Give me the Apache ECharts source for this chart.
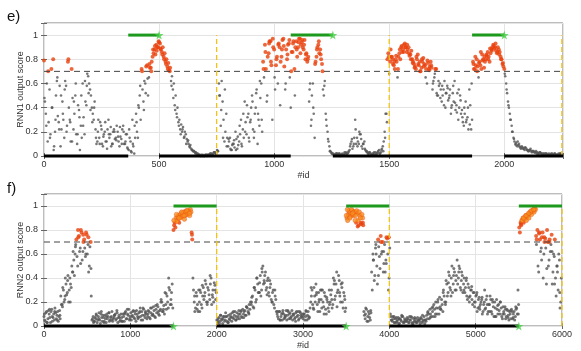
<!DOCTYPE html>
<html>
<head>
<meta charset="utf-8">
<title>RNN output scores</title>
<script src="https://cdn.jsdelivr.net/npm/echarts@6/dist/echarts.min.js"></script>
<style>
    html, body, #main {
        width: 100%;
        height: 100%;
        margin: 0;
        background: #fff;
    }
</style>
</head>
<body>
<div id="main"></div>
<script type="text/javascript">
// panel e) RNN1 : scores read every 4 ids (from id 0) ...
var rnn1Step = 4;
var rnn1Scores = [
    0.79,0.45,0.35,0.6,0.12,0.28,0.55,0.18,0.72,0.4,0.8,0.08,0.2,0.5,0.62,0.33,0.28,0.58,0.08,0.22,
    0.45,0.3,0.15,0.62,0.58,0.25,0.78,0.4,0.3,0.12,0.72,0.48,0.22,0.35,0.5,0.18,0.1,0.42,0.38,0.05,
    0.25,0.15,0.6,0.32,0.18,0.45,0.42,0.68,0.66,0.6,0.55,0.5,0.4,0.35,0.3,0.45,0.22,0.1,0.12,0.3,
    0.15,0.28,0.25,0.1,0.08,0.18,0.2,0.12,0.12,0.22,0.3,0.15,0.18,0.08,0.1,0.2,0.22,0.14,0.15,0.25,
    0.2,0.12,0.08,0.16,0.14,0.22,0.25,0.1,0.1,0.18,0.18,0.06,0.05,0.15,0.12,0.03,0.3,0.08,0.02,0.15,
    0.35,0.2,0.15,0.4,0.5,0.3,0.72,0.55,0.45,0.62,0.6,0.74,0.75,0.5,0.65,0.73,0.73,0.78,0.82,0.85,
    0.88,0.84,0.92,0.9,0.9,0.94,0.93,0.88,0.86,0.9,0.82,0.85,0.78,0.8,0.74,0.77,0.71,0.73,0.62,0.66,
    0.55,0.6,0.42,0.5,0.35,0.4,0.28,0.3,0.22,0.26,0.2,0.24,0.15,0.2,0.18,0.14,0.12,0.1,0.08,0.09,
    0.06,0.05,0.04,0.04,0.03,0.03,0.02,0.02,0.01,0.01,0,0.01,0,0,0,0.01,0.01,0,0.01,0.01,
    0.01,0.02,0.02,0.01,0.02,0.03,0.03,0.02,0.05,0.04,0.6,0.5,0.25,0.62,0.45,0.3,0.12,0.2,0.35,0.15,
    0.08,0.12,0.15,0.05,0.05,0.1,0.1,0.07,0.2,0.14,0.06,0.09,0.12,0.18,0.3,0.08,0.22,0.15,0.45,0.28,
    0.18,0.32,0.35,0.12,0.28,0.4,0.5,0.22,0.15,0.35,0.4,0.55,0.1,0.3,0.25,0.48,0.6,0.2,0.78,0.65,
    0.92,0.72,0.45,0.82,0.85,0.95,0.95,0.75,0.3,0.9,0.88,0.55,0.75,0.82,0.6,0.93,0.9,0.78,0.82,0.96,
    0.97,0.74,0.55,0.88,0.8,0.92,0.93,0.65,0.4,0.86,0.86,0.95,0.72,0.9,0.95,0.82,0.9,0.97,0.97,0.92,
    0.94,0.9,0.88,0.96,0.8,0.85,0.78,0.82,0.45,0.6,0.25,0.5,0.6,0.35,0.15,0.78,0.82,0.9,0.92,0.85,
    0.88,0.8,0.76,0.55,0.5,0.62,0.35,0.25,0.2,0.12,0.08,0.04,0.03,0.02,0.02,0.01,0.01,0.02,0.02,0.01,
    0.01,0.02,0,0.01,0.02,0.01,0.01,0.02,0.03,0.02,0.02,0.04,0.05,0.1,0.12,0.06,0.08,0.15,0.3,0.1,
    0.15,0.12,0.1,0.18,0.18,0.08,0.06,0.1,0.12,0.05,0.04,0.03,0.02,0.03,0.03,0.01,0.01,0.02,0.02,0.01,
    0.03,0.02,0.02,0.04,0.05,0.02,0.03,0.06,0.08,0.12,0.2,0.35,0.35,0.8,0.85,0.68,0.78,0.82,0.82,0.76,
    0.75,0.72,0.8,0.78,0.65,0.82,0.85,0.8,0.9,0.86,0.88,0.92,0.93,0.9,0.86,0.88,0.9,0.83,0.84,0.87,
    0.8,0.78,0.76,0.74,0.72,0.8,0.84,0.75,0.78,0.7,0.73,0.78,0.81,0.76,0.75,0.72,0.6,0.77,0.72,0.74,
    0.78,0.73,0.55,0.62,0.65,0.72,0.72,0.5,0.5,0.58,0.6,0.55,0.45,0.5,0.55,0.62,0.4,0.52,0.58,0.46,
    0.48,0.55,0.35,0.42,0.52,0.45,0.62,0.38,0.42,0.52,0.3,0.4,0.5,0.35,0.38,0.28,0.25,0.35,0.45,0.3,
    0.32,0.22,0.55,0.42,0.22,0.3,0.78,0.72,0.72,0.75,0.8,0.74,0.65,0.78,0.75,0.72,0.84,0.8,0.73,0.78,
    0.8,0.83,0.86,0.82,0.78,0.85,0.88,0.9,0.92,0.89,0.9,0.87,0.85,0.9,0.88,0.86,0.82,0.8,0.76,0.74,
    0.72,0.66,0.6,0.52,0.45,0.4,0.35,0.3,0.25,0.2,0.15,0.12,0.1,0.11,0.08,0.09,0.1,0.07,0.06,0.08,
    0.07,0.06,0.05,0.07,0.06,0.05,0.04,0.05,0.05,0.04,0.03,0.04,0.04,0.03,0.03,0.02,0.03,0.02,0.02,0.03,
    0.02,0.01,0.02,0.02,0.01,0.02,0.02,0.01,0.01,0.01,0.01,0.02,0.02,0.01,0.01,0.02,0.01,0.01,0.01,0.02,
    0.01,0.02,0.01,0.01
];
// ... plus a second reading every 8 ids, starting at id 2
var rnn1StepB = 8, rnn1OffsetB = 2;
var rnn1ScoresB = [
    0.48,0.25,0.7,0.15,0.4,0.05,0.3,0.65,0.22,0.5,
    0.35,0.55,0.2,0.8,0.28,0.12,0.45,0.6,0.18,0.32,
    0.5,0.25,0.62,0.58,0.52,0.38,0.28,0.4,0.15,0.2,
    0.1,0.22,0.16,0.28,0.06,0.18,0.24,0.1,0.2,0.13,
    0.16,0.24,0.1,0.2,0.12,0.07,0.22,0.04,0.1,0.25,
    0.28,0.42,0.58,0.7,0.38,0.52,0.64,0.76,0.7,0.88,
    0.91,0.87,0.95,0.89,0.84,0.8,0.76,0.72,0.7,0.58,
    0.48,0.38,0.32,0.25,0.18,0.22,0.16,0.1,0.13,0.07,
    0.05,0.04,0.02,0.01,0.01,0,0.01,0,0.01,0.01,
    0.02,0.01,0.03,0.02,0.04,0.5,0.38,0.15,0.55,0.08,
    0.14,0.06,0.09,0.13,0.05,0.16,0.25,0.1,0.35,0.2,
    0.42,0.15,0.3,0.45,0.2,0.52,0.35,0.62,0.3,0.72,
    0.86,0.5,0.93,0.78,0.97,0.65,0.8,0.92,0.42,0.88,
    0.91,0.6,0.84,0.96,0.7,0.93,0.5,0.88,0.94,0.85,
    0.96,0.92,0.84,0.8,0.55,0.3,0.4,0.76,0.88,0.95,
    0.84,0.7,0.58,0.3,0.14,0.04,0.02,0.01,0.01,0.02,
    0.02,0.01,0.01,0.03,0.02,0.03,0.08,0.14,0.1,0.22,
    0.08,0.2,0.14,0.1,0.06,0.04,0.02,0.02,0.01,0.03,
    0.01,0.03,0.02,0.05,0.04,0.15,0.28,0.82,0.88,0.8,
    0.78,0.83,0.72,0.88,0.91,0.86,0.9,0.92,0.85,0.8,
    0.77,0.73,0.82,0.76,0.7,0.8,0.74,0.65,0.79,0.71,
    0.75,0.6,0.68,0.52,0.62,0.48,0.58,0.42,0.52,0.56,
    0.5,0.4,0.58,0.44,0.36,0.55,0.46,0.32,0.4,0.28,
    0.4,0.26,0.6,0.76,0.82,0.7,0.77,0.86,0.79,0.82,
    0.84,0.8,0.89,0.87,0.91,0.93,0.86,0.84,0.8,0.77,
    0.68,0.55,0.42,0.3,0.2,0.14,0.09,0.12,0.08,0.07,
    0.06,0.07,0.05,0.04,0.06,0.04,0.03,0.04,0.02,0.03,
    0.02,0.01,0.02,0.01,0.02,0.01,0.01,0.02,0.01,0.01,
    0.02,0.01
];
var rnn1Max = 2255;
var rnn1Positive = [[366, 500], [1072, 1255], [1860, 2000]];
var rnn1Negative = [[0, 366], [500, 1072], [1255, 1860], [2000, 2255]];
var rnn1Bounds = [750, 1500, 2250];

// panel f) RNN2 : scores read every 15 ids (from id 0) ...
var rnn2Step = 15;
var rnn2Scores = [
    0.08,0.04,0.12,0.06,0.1,0.03,0.14,0.07,0.05,0.11,0.09,0.04,0.13,0.25,0.18,0.3,0.22,0.35,0.28,0.2,
    0.4,0.32,0.45,0.55,0.6,0.72,0.5,0.75,0.65,0.78,0.62,0.72,0.58,0.76,0.68,0.5,0.7,0.05,0.08,0.04,
    0.06,0.03,0.08,0.05,0.1,0.04,0.07,0.09,0.03,0.06,0.11,0.05,0.08,0.04,0.07,0.1,0.06,0.03,0.09,0.05,
    0.07,0.1,0.04,0.12,0.06,0.09,0.05,0.11,0.08,0.13,0.06,0.04,0.1,0.07,0.12,0.05,0.09,0.14,0.07,0.1,
    0.08,0.12,0.06,0.15,0.1,0.13,0.07,0.11,0.16,0.09,0.14,0.2,0.12,0.1,0.18,0.25,0.15,0.3,0.22,0.35,
    0.8,0.86,0.9,0.88,0.92,0.9,0.94,0.93,0.95,0.92,0.96,0.94,0.95,0.97,0.78,0.4,0.2,0.15,0.25,0.12,
    0.2,0.28,0.15,0.32,0.25,0.35,0.18,0.3,0.22,0.4,0.26,0.2,0.34,0.28,0.03,0.07,0.04,0.06,0.02,0.08,
    0.05,0.08,0.03,0.06,0.1,0.04,0.07,0.09,0.05,0.11,0.08,0.06,0.12,0.07,0.1,0.13,0.09,0.15,0.11,0.14,
    0.18,0.25,0.15,0.3,0.22,0.35,0.28,0.42,0.3,0.5,0.38,0.45,0.32,0.4,0.25,0.35,0.2,0.3,0.15,0.22,
    0.1,0.06,0.12,0.08,0.05,0.1,0.07,0.13,0.09,0.06,0.11,0.08,0.05,0.1,0.07,0.12,0.09,0.06,0.11,0.08,
    0.06,0.1,0.08,0.05,0.12,0.07,0.2,0.3,0.15,0.25,0.35,0.18,0.28,0.12,0.22,0.3,0.16,0.25,0.1,0.2,
    0.12,0.2,0.3,0.18,0.35,0.25,0.45,0.3,0.38,0.2,0.32,0.15,0.25,0.15,0.9,0.93,0.95,0.94,0.96,0.92,
    0.95,0.86,0.94,0.84,0.92,0.85,0.9,0.12,0.06,0.14,0.08,0.1,0.05,0.45,0.6,0.38,0.65,0.5,0.72,0.58,
    0.75,0.62,0.45,0.68,0.55,0.73,0.3,0.65,0.08,0.04,0.06,0.03,0.07,0.05,0.02,0.06,0.04,0.08,0.03,0.05,
    0.04,0.06,0.03,0.05,0.07,0.02,0.04,0.06,0.03,0.05,0.04,0.07,0.03,0.05,0.02,0.04,0.06,0.1,0.14,0.08,
    0.12,0.18,0.08,0.15,0.2,0.1,0.16,0.22,0.12,0.25,0.18,0.35,0.28,0.42,0.3,0.5,0.35,0.45,0.38,0.55,
    0.4,0.48,0.3,0.42,0.35,0.28,0.38,0.22,0.32,0.25,0.3,0.18,0.28,0.2,0.26,0.15,0.24,0.18,0.22,0.12,
    0.2,0.15,0.25,0.12,0.18,0.22,0.1,0.16,0.2,0.08,0.14,0.18,0.1,0.15,0.06,0.12,0.16,0.08,0.13,0.05,
    0.1,0.14,0.06,0.12,0.08,0.15,0.3,0.82,0.86,0.88,0.9,0.89,0.92,0.91,0.93,0.94,0.95,0.96,0.97,0.98,
    0.75,0.8,0.45,0.72,0.65,0.78,0.6,0.73,0.35,0.7,0.55,0.62,0.76,0.45,0.58,0.4,0.5,0.3,0.55,0.2
];
// ... a second reading every 15 ids, starting at id 7 ...
var rnn2StepB = 15, rnn2OffsetB = 7;
var rnn2ScoresB = [
    0.05,0.11,0.03,0.13,0.07,0.12,0.04,0.1,0.15,0.06,0.12,0.08,0.06,0.18,0.32,0.2,0.4,0.26,0.42,0.3,
    0.35,0.5,0.62,0.42,0.68,0.58,0.74,0.62,0.8,0.55,0.7,0.65,0.78,0.6,0.45,0.66,0.25,0.06,0.04,0.07,
    0.09,0.05,0.11,0.02,0.07,0.09,0.04,0.06,0.1,0.08,0.04,0.07,0.12,0.06,0.09,0.05,0.11,0.07,0.04,0.1,
    0.04,0.08,0.11,0.06,0.1,0.14,0.08,0.05,0.12,0.07,0.1,0.13,0.06,0.11,0.08,0.12,0.15,0.09,0.12,0.06,
    0.13,0.07,0.11,0.09,0.16,0.08,0.14,0.18,0.1,0.13,0.22,0.12,0.17,0.28,0.14,0.2,0.32,0.18,0.28,0.15,
    0.84,0.82,0.87,0.91,0.86,0.93,0.91,0.92,0.89,0.95,0.93,0.96,0.92,0.95,0.72,0.3,0.12,0.28,0.18,0.3,
    0.3,0.18,0.25,0.22,0.38,0.2,0.32,0.26,0.35,0.18,0.3,0.36,0.22,0.05,0.06,0.02,0.09,0.05,0.08,0.04,
    0.08,0.04,0.09,0.05,0.07,0.11,0.06,0.12,0.08,0.06,0.13,0.1,0.08,0.14,0.12,0.09,0.16,0.12,0.18,0.2,
    0.24,0.16,0.32,0.2,0.4,0.28,0.36,0.25,0.45,0.35,0.42,0.3,0.38,0.28,0.32,0.22,0.28,0.18,0.25,0.12,
    0.08,0.12,0.05,0.1,0.13,0.06,0.09,0.05,0.12,0.1,0.07,0.13,0.09,0.06,0.11,0.08,0.05,0.12,0.07,0.1,
    0.1,0.05,0.12,0.09,0.08,0.15,0.25,0.18,0.32,0.2,0.28,0.12,0.22,0.3,0.15,0.2,0.28,0.14,0.22,0.15,
    0.18,0.26,0.15,0.4,0.22,0.35,0.28,0.42,0.25,0.35,0.2,0.28,0.12,0.92,0.88,0.96,0.91,0.97,0.93,0.95,
    0.92,0.96,0.88,0.95,0.86,0.93,0.84,0.09,0.15,0.04,0.12,0.07,0.11,0.3,0.55,0.42,0.6,0.35,0.66,0.48,
    0.6,0.7,0.52,0.45,0.74,0.6,0.4,0.1,0.05,0.08,0.03,0.06,0.04,0.07,0.02,0.05,0.08,0.03,0.06,0.04,
    0.07,0.03,0.05,0.08,0.02,0.06,0.04,0.03,0.07,0.05,0.02,0.06,0.04,0.08,0.05,0.09,0.12,0.06,0.1,0.15,
    0.08,0.14,0.2,0.1,0.15,0.24,0.14,0.18,0.3,0.2,0.38,0.25,0.45,0.32,0.4,0.28,0.48,0.3,0.42,0.35,
    0.5,0.32,0.45,0.28,0.4,0.32,0.25,0.35,0.2,0.3,0.22,0.28,0.16,0.25,0.12,0.22,0.14,0.2,0.1,0.18,
    0.14,0.22,0.1,0.18,0.25,0.12,0.2,0.08,0.15,0.22,0.1,0.13,0.2,0.08,0.16,0.1,0.06,0.14,0.09,0.12,
    0.06,0.12,0.1,0.05,0.14,0.1,0.18,0.78,0.84,0.88,0.86,0.9,0.88,0.92,0.9,0.95,0.93,0.96,0.95,0.97,
    0.72,0.5,0.78,0.62,0.74,0.4,0.7,0.65,0.8,0.5,0.72,0.68,0.35,0.6,0.72,0.25,0.45,0.6,0.15,0.4
];
// ... and a third, sparser reading every 30 ids, starting at id 4
var rnn2StepC = 30, rnn2OffsetC = 4;
var rnn2ScoresC = [
    0.1,0.03,0.14,0.08,0.12,0.05,0.09,0.16,0.25,0.38,0.2,0.45,0.66,0.8,0.52,0.76,0.6,0.74,0.48,0.03,
    0.1,0.06,0.12,0.03,0.08,0.11,0.05,0.09,0.13,0.07,0.04,0.1,0.14,0.06,0.09,0.12,0.08,0.15,0.05,0.11,
    0.1,0.15,0.09,0.17,0.12,0.2,0.14,0.27,0.4,0.18,0.88,0.93,0.9,0.95,0.92,0.96,0.94,0.76,0.25,0.14,
    0.12,0.34,0.28,0.2,0.42,0.24,0.3,0.04,0.09,0.06,0.11,0.03,0.08,0.12,0.05,0.1,0.13,0.07,0.16,0.1,
    0.2,0.32,0.4,0.28,0.48,0.36,0.26,0.38,0.2,0.3,0.12,0.05,0.11,0.08,0.13,0.06,0.1,0.04,0.12,0.09,
    0.08,0.13,0.06,0.32,0.14,0.26,0.2,0.3,0.1,0.24,0.3,0.22,0.38,0.16,0.28,0.36,0.22,0.97,0.9,0.94,
    0.88,0.83,0.9,0.86,0.1,0.04,0.13,0.55,0.68,0.42,0.7,0.62,0.52,0.74,0.05,0.08,0.03,0.06,0.09,0.04,
    0.05,0.08,0.03,0.07,0.04,0.06,0.09,0.05,0.11,0.07,0.16,0.1,0.22,0.14,0.28,0.2,0.36,0.25,0.42,0.3,
    0.45,0.38,0.3,0.4,0.24,0.33,0.2,0.28,0.16,0.24,0.3,0.18,0.12,0.22,0.08,0.17,0.2,0.1,0.14,0.07,
    0.13,0.07,0.16,0.1,0.85,0.9,0.92,0.94,0.96,0.97,0.68,0.77,0.55,0.74,0.48,0.7,0.62,0.35,0.5,0.28
];
var rnn2Max = 6000;
var rnn2Positive = [[1500, 2000], [3500, 4000], [5500, 6000]];
var rnn2Negative = [[0, 1500], [2000, 3500], [4000, 5500]];
var rnn2Bounds = [2000, 4000, 6000];

var threshold = 0.7;
var orangeLevel = 0.87;

var GREY = '#555555', RED = '#e8410c', ORANGE = '#f68d1f';
var GREEN = '#1d9a1d', STAR = '#44d044', YELLOW = '#f2c21a';
var FONT = 'Liberation Sans, Arial, sans-serif';
var STAR_PATH = 'path://M50,0 L61,35 L98,35 L68,57 L79,91 L50,70 L21,91 L32,57 L2,35 L39,35 Z';

function splitPoints(readings, withOrange) {
    var grey = [], red = [], orange = [];
    readings.forEach(function (r) {
        for (var i = 0; i < r.scores.length; i++) {
            var y = r.scores[i];
            var p = [r.offset + i * r.step, y];
            if (y < threshold) grey.push(p);
            else if (withOrange && y >= orangeLevel) orange.push(p);
            else red.push(p);
        }
    });
    return { grey: grey, red: red, orange: orange };
}

function seg(idx, data, color, width, type) {
    return {
        type: 'line', xAxisIndex: idx * 2, yAxisIndex: idx * 2,
        data: data, symbol: 'none', clip: false, silent: true, z: 5,
        lineStyle: { color: color, width: width, type: type || 'solid' }
    };
}

function stars(idx, pts) {
    return {
        type: 'scatter', xAxisIndex: idx * 2, yAxisIndex: idx * 2,
        data: pts, symbol: STAR_PATH, symbolSize: 9, clip: false, z: 7,
        itemStyle: { color: STAR }
    };
}

function panelSeries(idx, readings, max, positive, negative, bounds, starPts, withOrange, greySize) {
    var pts = splitPoints(readings, withOrange);
    var list = [
        { type: 'scatter', xAxisIndex: idx * 2, yAxisIndex: idx * 2, data: pts.grey, symbolSize: greySize, itemStyle: { color: GREY }, z: 2 },
        { type: 'scatter', xAxisIndex: idx * 2, yAxisIndex: idx * 2, data: pts.red, symbolSize: 4, itemStyle: { color: RED }, z: 3 },
        { type: 'scatter', xAxisIndex: idx * 2, yAxisIndex: idx * 2, data: pts.orange, symbolSize: 4.5, itemStyle: { color: ORANGE, borderColor: RED, borderWidth: 0.4 }, z: 3 },
        seg(idx, [[0, threshold], [max, threshold]], '#444', 1, [6, 4])
    ];
    bounds.forEach(function (b) { list.push(seg(idx, [[b, 0], [b, 1]], YELLOW, 1.3, [5, 3])); });
    positive.forEach(function (s) { list.push(seg(idx, [[s[0], 1], [s[1], 1]], GREEN, 3)); });
    negative.forEach(function (s) { list.push(seg(idx, [[s[0], 0], [s[1], 0]], '#000', 3)); });
    list.push(stars(idx, starPts));
    return list;
}

function xAxes(idx, max, interval) {
    var base = { gridIndex: idx, type: 'value', min: 0, max: max, interval: interval };
    return [
        Object.assign({}, base, {
            position: 'bottom',
            name: '#id', nameLocation: 'middle', nameGap: 15, nameMoveOverlap: false,
            nameTextStyle: { fontSize: 9, color: '#333', fontFamily: FONT },
            axisLine: { show: false },
            axisTick: { inside: true, length: 3, lineStyle: { color: '#666' } },
            axisLabel: {
                fontSize: 9, color: '#333', margin: 4, fontFamily: FONT,
                formatter: function (v) { return v % interval === 0 ? String(v) : ''; }
            },
            splitLine: { show: true, lineStyle: { color: '#e4e4e4', width: 1 } }
        }),
        Object.assign({}, base, {
            position: 'top',
            axisLine: { show: false },
            axisTick: { inside: true, length: 3, lineStyle: { color: '#666' } },
            axisLabel: { show: false },
            splitLine: { show: false }
        })
    ];
}

function yAxes(idx, name) {
    var base = { gridIndex: idx, type: 'value', min: 0, max: 1.1, interval: 0.2 };
    return [
        Object.assign({}, base, {
            position: 'left',
            name: name, nameLocation: 'middle', nameGap: 19, nameRotate: 90, nameMoveOverlap: false,
            nameTextStyle: { fontSize: 9, color: '#333', fontFamily: FONT },
            axisLine: { show: false },
            axisTick: { inside: true, length: 3, lineStyle: { color: '#666' } },
            axisLabel: {
                fontSize: 9, color: '#333', margin: 6, fontFamily: FONT,
                formatter: function (v) {
                    var k = Math.round(v * 5);
                    return Math.abs(v * 5 - k) < 1e-6 ? String(+(k / 5).toFixed(1)) : '';
                }
            },
            splitLine: { show: true, lineStyle: { color: '#e4e4e4', width: 1 } }
        }),
        Object.assign({}, base, {
            position: 'right',
            axisLine: { show: false },
            axisTick: { inside: true, length: 3, lineStyle: { color: '#666' } },
            axisLabel: { show: false },
            splitLine: { show: false }
        })
    ];
}

var rnn1Readings = [
    { offset: 0, step: rnn1Step, scores: rnn1Scores },
    { offset: rnn1OffsetB, step: rnn1StepB, scores: rnn1ScoresB }
];
var rnn2Readings = [
    { offset: 0, step: rnn2Step, scores: rnn2Scores },
    { offset: rnn2OffsetB, step: rnn2StepB, scores: rnn2ScoresB },
    { offset: rnn2OffsetC, step: rnn2StepC, scores: rnn2ScoresC }
];
var rnn1Stars = rnn1Positive.map(function (s) { return [s[1], 1]; });
var rnn2Stars = rnn2Positive.map(function (s) { return [s[0], 0]; });

var myChart = echarts.init(document.getElementById('main'));
var option = {
    animation: false,
    backgroundColor: '#fff',
    grid: [
        { left: 44, top: 23, width: 519, height: 133, show: true, borderColor: '#7a7a7a', borderWidth: 1, backgroundColor: 'transparent' },
        { left: 44, top: 194, width: 518, height: 133, show: true, borderColor: '#7a7a7a', borderWidth: 1, backgroundColor: 'transparent' }
    ],
    xAxis: xAxes(0, rnn1Max, 500).concat(xAxes(1, rnn2Max, 1000)),
    yAxis: yAxes(0, 'RNN1 output score').concat(yAxes(1, 'RNN2 output score')),
    graphic: [
        { type: 'text', left: 7, top: 9, style: { text: 'e)', font: '15px ' + FONT, fill: '#111' } },
        { type: 'text', left: 7, top: 181, style: { text: 'f)', font: '15px ' + FONT, fill: '#111' } }
    ],
    series: panelSeries(0, rnn1Readings, rnn1Max, rnn1Positive, rnn1Negative, rnn1Bounds, rnn1Stars, false, 2.6)
        .concat(panelSeries(1, rnn2Readings, rnn2Max, rnn2Positive, rnn2Negative, rnn2Bounds, rnn2Stars, true, 3))
};
myChart.setOption(option);
window.onresize = myChart.resize;
</script>
</body>
</html>
